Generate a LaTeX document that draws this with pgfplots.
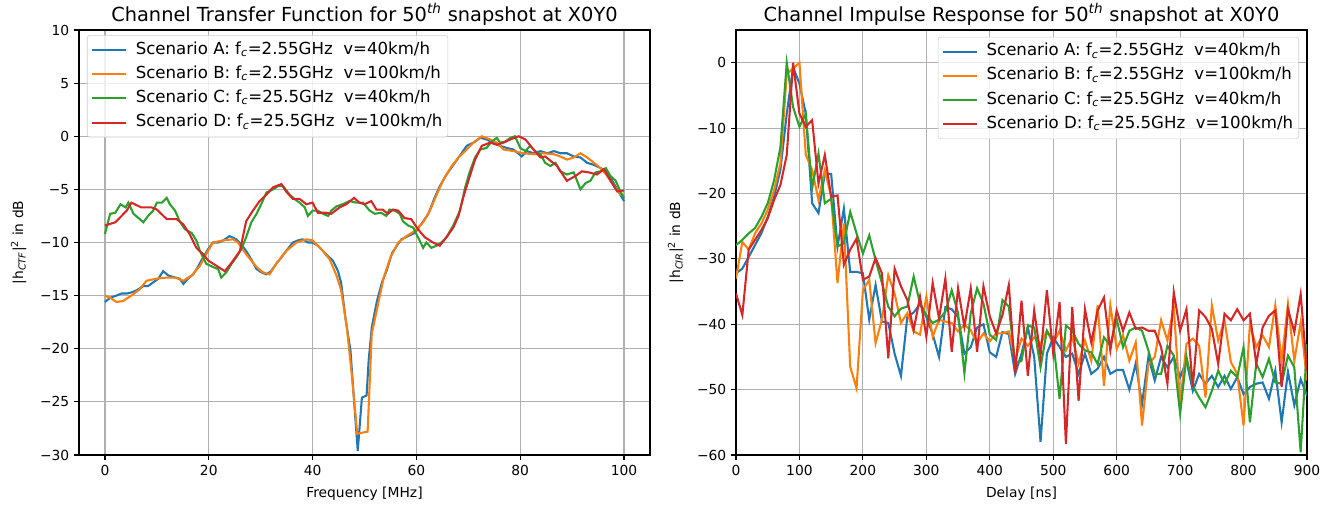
\documentclass[border=0pt]{standalone}
\usepackage{pgfplots}
\pgfplotsset{compat=1.18}
\usepackage{pgfplotstable}
\usepackage{fontspec}
\setmainfont{DejaVu Sans}

\definecolor{tabblue}{HTML}{1F77B4}
\definecolor{taborange}{HTML}{FF7F0E}
\definecolor{tabgreen}{HTML}{2CA02C}
\definecolor{tabred}{HTML}{D62728}
\definecolor{gridgray}{HTML}{B0B0B0}
\definecolor{legedge}{HTML}{CCCCCC}

% channel impulse response, delay in ns, |h|^2 in dB
\pgfplotstableread{
d A B C D
0 -32.2 -33.0 -27.9 -35.3
10 -31.5 -27.4 -27.1 -38.6
20 -29.7 -28.6 -26.1 -28.6
30 -27.9 -26.1 -25.3 -27.1
40 -26.1 -24.6 -23.6 -25.6
50 -23.6 -22.5 -21.5 -23.8
60 -20.5 -19.5 -18.0 -21.0
70 -16.4 -15.4 -12.9 -18.7
80 -7.8 -1.7 0.0 -14.1
90 -0.7 -0.9 -6.8 0.0
100 -3.2 0.0 -9.8 -7.8
110 -7.8 -14.1 -7.8 -9.8
120 -21.5 -16.4 -19.2 -8.8
130 -23.0 -21.0 -13.9 -18.5
140 -17.0 -16.4 -21.5 -14.1
150 -17.0 -20.5 -20.8 -20.5
160 -28.1 -33.7 -28.1 -20.3
170 -22.3 -24.6 -27.6 -30.9
180 -32.0 -46.5 -22.8 -28.6
190 -32.0 -49.8 -26.1 -26.9
200 -32.2 -34.8 -29.2 -33.2
210 -39.3 -33.2 -26.4 -32.7
220 -34.0 -42.9 -30.2 -29.9
230 -39.6 -39.3 -33.7 -32.2
240 -39.8 -32.5 -37.3 -45.2
250 -44.5 -35.3 -38.8 -31.5
260 -47.9 -39.8 -37.6 -34.2
270 -38.9 -38.3 -37.3 -36.3
280 -38.2 -41.1 -32.7 -40.9
290 -36.9 -41.6 -36.8 -35.8
300 -38.9 -35.8 -38.6 -41.9
310 -41.5 -41.9 -39.8 -33.7
320 -45.0 -39.3 -39.3 -39.1
330 -37.4 -39.6 -38.1 -33.0
340 -37.7 -39.8 -34.8 -44.2
350 -38.9 -41.1 -38.3 -34.5
360 -44.5 -40.1 -47.5 -40.4
370 -43.5 -40.9 -38.3 -34.5
380 -40.5 -42.9 -34.5 -44.2
390 -40.0 -41.4 -36.8 -34.2
400 -44.3 -42.6 -41.6 -38.8
410 -45.0 -41.4 -42.4 -41.4
420 -41.2 -41.4 -36.3 -38.6
430 -41.5 -41.1 -37.3 -34.0
440 -47.6 -45.5 -46.0 -47.5
450 -44.5 -42.2 -45.6 -36.4
460 -40.5 -43.3 -40.2 -47.9
470 -45.0 -42.0 -40.5 -37.9
480 -58.0 -43.0 -46.6 -44.8
490 -44.5 -41.0 -41.0 -34.8
500 -42.0 -43.0 -42.5 -44.5
510 -43.5 -41.0 -51.4 -36.6
520 -45.0 -44.0 -40.2 -58.3
530 -44.5 -42.0 -41.0 -37.4
540 -47.6 -46.0 -43.0 -51.7
550 -44.5 -42.5 -44.0 -37.7
560 -47.6 -45.6 -44.3 -42.8
570 -46.8 -37.1 -46.1 -37.9
580 -45.0 -49.4 -42.0 -35.9
590 -47.6 -37.1 -43.3 -44.0
600 -47.0 -43.8 -39.2 -37.9
610 -47.0 -41.7 -43.5 -41.0
620 -50.0 -45.6 -41.0 -38.2
630 -46.0 -42.8 -40.5 -40.7
640 -52.2 -55.5 -41.0 -40.5
650 -45.0 -46.1 -44.0 -41.0
660 -48.6 -45.0 -47.6 -41.0
670 -45.0 -39.4 -47.6 -43.5
680 -46.6 -42.5 -43.3 -49.1
690 -45.0 -37.4 -44.8 -35.1
700 -48.1 -52.2 -53.7 -41.0
710 -45.6 -43.0 -45.0 -37.7
720 -50.2 -42.2 -49.4 -49.6
730 -47.6 -43.3 -51.2 -37.9
740 -49.1 -51.2 -52.7 -38.9
750 -47.9 -37.1 -50.2 -40.7
760 -49.6 -42.5 -47.1 -46.1
770 -47.9 -39.4 -49.1 -38.4
780 -49.9 -45.8 -47.1 -39.4
790 -48.1 -47.6 -48.1 -37.7
800 -50.7 -55.5 -43.5 -39.4
810 -49.6 -40.0 -55.0 -38.4
820 -49.1 -43.5 -46.0 -46.1
830 -48.9 -41.7 -48.1 -40.5
840 -51.4 -43.5 -45.3 -38.7
850 -47.1 -37.1 -48.9 -37.9
860 -55.0 -45.6 -49.1 -49.6
870 -47.3 -36.9 -44.8 -37.7
880 -52.4 -45.6 -46.6 -41.2
890 -48.4 -39.7 -59.6 -35.4
900 -50.9 -48.6 -43.0 -47.1
}\cir

\pgfplotsset{
  mplstyle/.style={
    scale only axis,
    anchor=south west,
    width=5.71in, height=4.25in,
    axis line style={line width=0.8pt},
    tick align=outside, tick pos=left,
    major tick length=3.5pt,
    tick style={black, line width=0.8pt},
    grid=major,
    major grid style={gridgray, line width=0.8pt},
    tick label style={font=\fontsize{10}{12}\selectfont},
    label style={font=\fontsize{10}{12}\selectfont},
    xlabel style={yshift=-1.5pt},
    ylabel style={yshift=3pt},
    title style={font=\fontsize{14}{16}\selectfont, at={(0.5,1)}, anchor=base, yshift=0.5pt},
    every axis plot/.append style={line width=1.5pt, mark=none},
    legend cell align=left,
    legend image code/.code={\draw[##1] (0in,0in) -- (0.34in,0in);},
    legend style={
      draw=legedge, rounded corners=2pt, fill=white, fill opacity=0.8,
      text opacity=1, font=\fontsize{12}{14}\selectfont,
      nodes={inner sep=1.5pt, text height=9pt, text depth=3pt},
      row sep=2.5pt, column sep=5pt, inner xsep=2.5pt, inner ysep=3pt,
    },
  },
}

\begin{document}
\begin{tikzpicture}

\begin{axis}[mplstyle,
  at={(0.79in,0.51in)},
  xmin=-5, xmax=105, ymin=-30, ymax=10,
  xtick={0,20,...,100}, xticklabels={0,20,40,60,80,100},
  ytick={-30,-25,...,10},
  yticklabels={−30,−25,−20,−15,−10,−5,0,5,10},
  title={Channel Transfer Function for 50\textsuperscript{\itshape th} snapshot at X0Y0},
  xlabel={Frequency [MHz]},
  ylabel={|h\textsubscript{\itshape CTF}|\textsuperscript{2} in dB},
  legend style={at={(0.014,0.988)}, anchor=north west},
]
\addplot[tabblue] coordinates {
(0,-15.6)(1,-15.2)(2.2,-15)(3.2,-14.8)(4.2,-14.8)(5.1,-14.7)(6.1,-14.5)(7.4,-14.1)
(8.3,-14.1)(9.3,-13.75)(10.3,-13.4)(11.2,-12.7)(12.2,-13.1)(13.5,-13.3)(14.4,-13.4)
(15.1,-13.9)(16,-13.4)(17,-13)(17.9,-12.3)(18.9,-11.4)(19.9,-10.6)(20.8,-10)(21.8,-10)
(22.8,-9.8)(24,-9.4)(25.3,-9.7)(26.3,-10.2)(27.2,-10.8)(28.2,-11.6)(29.2,-12.5)
(30.1,-12.8)(31.1,-13)(32,-12.7)(33,-12)(34,-11.4)(34.9,-10.8)(36.2,-10)(37.2,-9.8)
(38.1,-9.7)(39.1,-10)(40,-10)(41,-10.3)(42,-10.8)(42.9,-11.25)(43.9,-11.7)(44.9,-12.7)
(45.5,-13.8)(46.3,-17)(47.3,-20.2)(47.9,-24.3)(48.7,-29.6)(49.5,-24.6)(50.4,-24.4)
(50.8,-21.1)(51.4,-18)(52.4,-15.5)(53.4,-13.7)(54.3,-12.6)(55.3,-11)(56.5,-10.1)
(57.1,-9.7)(58.4,-9.4)(59.7,-9.1)(60.9,-8.3)(62.3,-7.3)(63.5,-5.8)(64.5,-4.7)
(65.8,-3.6)(67.4,-2.5)(68.7,-1.6)(69.7,-0.9)(71,-0.6)(72.3,-0.15)(73.5,-0.3)(74.8,-0.6)
(76.1,-0.9)(77.4,-1.1)(78.7,-1.25)(80.3,-1.9)(81.3,-1.4)(82.6,-1.6)(83.9,-1.4)
(85.2,-1.6)(86.5,-1.4)(87.7,-1.6)(89,-1.6)(90.3,-1.9)(91.6,-2)(92.9,-2.5)(94.2,-2.7)
(95.5,-3)(96.8,-3.4)(98.1,-4.5)(99.4,-5.6)(100,-6.1)
};
\addlegendentry{Scenario A: f\textsubscript{\itshape c}=2.55GHz\ \ v=40km/h}
\addplot[taborange] coordinates {
(0,-15)(1,-15.2)(2.2,-15.6)(3.5,-15.5)(5.1,-15)(6.7,-14.4)(8,-13.6)(10,-13.4)
(11.9,-13.3)(13.5,-13.3)(15.1,-13.6)(16.7,-13.1)(18.3,-12.2)(19.5,-11.1)(20.8,-10)
(22.8,-9.8)(24.7,-9.7)(25.6,-10)(27.2,-11.1)(29.2,-12.3)(30.4,-12.8)(31.7,-13)(33,-12)
(34.9,-10.8)(36.9,-10)(38.8,-9.7)(40,-9.8)(42,-10.8)(43.3,-11.6)(44.6,-13.1)
(45.5,-14.5)(46.6,-18)(47.6,-22.7)(48.6,-28)(50.6,-27.8)(51.4,-18.6)(52.4,-16.3)
(53.7,-13.3)(55,-11.4)(56.5,-10)(58.1,-9.4)(59.7,-8.9)(61.3,-8.1)(62.6,-7)(63.9,-5.5)
(65.2,-4.1)(66.8,-2.8)(68.1,-2)(69.7,-1.25)(71,-0.6)(72.6,0)(74.2,-0.3)(75.5,-0.6)
(76.8,-1.25)(78.7,-1.4)(80.6,-1.6)(82.6,-1.7)(84.5,-1.6)(86.5,-1.7)(87.7,-1.9)
(89,-2.2)(90.3,-2)(91.6,-1.6)(92.9,-2)(94.2,-2.5)(95.5,-3)(96.8,-3.75)(98.1,-4.7)
(99.4,-5.5)(100,-5.6)
};
\addlegendentry{Scenario B: f\textsubscript{\itshape c}=2.55GHz\ \ v=100km/h}
\addplot[tabgreen] coordinates {
(0,-9.2)(1,-7.3)(2,-7.2)(3,-6.4)(4,-6.7)(4.5,-6.25)(5.5,-7.3)(6.7,-7.8)(7.4,-8.1)
(8.3,-7.5)(9.3,-7)(10,-6.25)(11,-6.25)(11.9,-5.8)(12.5,-6.4)(13.5,-7)(14.4,-8)
(15.4,-8.75)(16.7,-9.1)(17.6,-9.8)(18.3,-10.8)(19.5,-12)(20.8,-12.3)(21.8,-12.5)
(22.4,-13.3)(23.4,-12.8)(24.4,-12)(25.3,-11.4)(26.3,-10.6)(27.2,-9.5)(28.2,-8.1)
(29.2,-7.3)(30.1,-6.4)(31.1,-5.3)(32.4,-5)(33.3,-4.7)(34.3,-4.7)(35.6,-5.5)(36.5,-5.9)
(37.5,-6.25)(38.5,-6.7)(39.1,-7.5)(40,-7)(41,-7)(42,-7.3)(43,-7.5)(43.6,-7)(44.6,-6.6)
(45.8,-6.4)(47.1,-6.1)(48.4,-6.25)(49.7,-6.25)(51,-7)(52,-7.3)(53.2,-7.2)(54.2,-7.5)
(54.8,-6.9)(55.8,-7)(56.8,-7.3)(57.4,-8)(58.4,-8.4)(59.4,-8.6)(60.3,-9.5)(61.3,-10.5)
(61.9,-10)(62.9,-10.5)(63.9,-10.3)(64.8,-10)(65.8,-9.5)(67.1,-8.4)(68.4,-7)(69.4,-4.8)
(70.3,-3.3)(71.3,-2)(72.3,-1.25)(73.5,-1.1)(74.5,-0.5)(75.5,-0.15)(76.1,-0.6)
(77.1,-0.5)(78.1,-0.15)(79,0)(80,-1.1)(81,-1.4)(81.9,-0.9)(82.9,-1.4)(83.9,-1.7)
(84.8,-2.5)(85.8,-2.8)(86.8,-2.5)(87.7,-3.3)(89,-3.6)(90.3,-3.4)(91.6,-5)(92.6,-4.4)
(93.5,-4.2)(94.5,-3.4)(95.5,-3.3)(96.5,-3)(97.4,-3.75)(98.4,-4.2)(99.4,-5.3)(100,-5.8)
};
\addlegendentry{Scenario C: f\textsubscript{\itshape c}=25.5GHz\ \ v=40km/h}
\addplot[tabred] coordinates {
(0,-8.4)(2,-8.1)(4.2,-7)(5.1,-6.25)(7,-6.7)(9,-6.7)(10,-6.9)(11.9,-7.8)(13.8,-7.8)
(15.1,-8.3)(16.3,-9.2)(17.6,-10.5)(18.9,-11.1)(19.9,-11.7)(21.5,-12.2)(23.1,-12.7)
(24.4,-11.9)(26,-10.8)(27.2,-8)(28.5,-7)(29.8,-6.1)(31.1,-5.5)(32.4,-4.8)(34,-4.5)
(34.9,-5.2)(36.2,-5.9)(37.5,-5.9)(38.8,-6.4)(40,-6.25)(41,-7.2)(42.6,-7.2)(43.6,-7.3)
(45.2,-6.7)(46.5,-6.4)(48,-5.8)(49,-6.25)(50,-6.4)(51.3,-6.1)(52.3,-6.9)(53.5,-6.9)
(54.5,-7.3)(55.5,-6.9)(56.5,-7)(57.7,-7.7)(59,-7.8)(60.3,-8.75)(61.6,-9.5)(63.2,-10)
(64.5,-10.3)(65.8,-9.5)(67.1,-8.6)(68.1,-7.5)(69,-5.8)(70,-4.2)(71.3,-2.2)(72.6,-0.9)
(74.2,-0.6)(75.5,-0.8)(76.8,-0.6)(78.1,-0.3)(79.7,0)(81,-0.3)(82.3,-1.1)(83.9,-2)
(84.8,-1.9)(85.8,-2.3)(87.1,-2.8)(89,-4.2)(90.6,-3.75)(91.9,-3.3)(93.2,-3.4)
(94.8,-3.6)(96.1,-3.1)(97.4,-4.2)(98.7,-5.2)(100,-5.1)
};
\addlegendentry{Scenario D: f\textsubscript{\itshape c}=25.5GHz\ \ v=100km/h}
\end{axis}

\begin{axis}[mplstyle,
  at={(7.36in,0.51in)},
  xmin=0, xmax=900, ymin=-60, ymax=5,
  xtick={0,100,...,900}, xticklabels={0,100,200,300,400,500,600,700,800,900},
  ytick={-60,-50,...,0},
  yticklabels={−60,−50,−40,−30,−20,−10,0},
  title={Channel Impulse Response for 50\textsuperscript{\itshape th} snapshot at X0Y0},
  xlabel={Delay [ns]},
  ylabel={|h\textsubscript{\itshape CIR}|\textsuperscript{2} in dB},
  legend style={at={(0.986,0.984)}, anchor=north east},
]
\addplot[tabblue] table[x=d, y=A] {\cir};
\addlegendentry{Scenario A: f\textsubscript{\itshape c}=2.55GHz\ \ v=40km/h}
\addplot[taborange] table[x=d, y=B] {\cir};
\addlegendentry{Scenario B: f\textsubscript{\itshape c}=2.55GHz\ \ v=100km/h}
\addplot[tabgreen] table[x=d, y=C] {\cir};
\addlegendentry{Scenario C: f\textsubscript{\itshape c}=25.5GHz\ \ v=40km/h}
\addplot[tabred] table[x=d, y=D] {\cir};
\addlegendentry{Scenario D: f\textsubscript{\itshape c}=25.5GHz\ \ v=100km/h}
\end{axis}

\pgfresetboundingbox
\path[use as bounding box] (0,0) rectangle (13.42in,5.06in);
\end{tikzpicture}
\end{document}
